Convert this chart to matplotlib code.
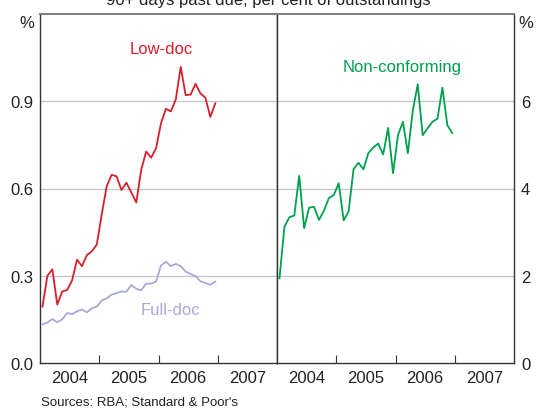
import numpy as np
import matplotlib
matplotlib.use("Agg")
import matplotlib.pyplot as plt

plt.rcParams['font.family'] = ['Liberation Sans', 'DejaVu Sans']

# monthly observations, Jan 2004 - Dec 2006
months = np.arange(36)
low_doc = [0.194, 0.30, 0.322, 0.201, 0.246, 0.251, 0.284, 0.355, 0.333, 0.371,
           0.384, 0.407, 0.511, 0.607, 0.647, 0.642, 0.595, 0.620, 0.586, 0.552,
           0.664, 0.727, 0.706, 0.738, 0.824, 0.874, 0.865, 0.906, 1.018, 0.921,
           0.923, 0.960, 0.927, 0.912, 0.846, 0.893]
full_doc = [0.133, 0.139, 0.151, 0.140, 0.150, 0.172, 0.168, 0.178, 0.184, 0.174,
            0.188, 0.194, 0.215, 0.222, 0.235, 0.240, 0.246, 0.245, 0.268, 0.255,
            0.250, 0.273, 0.273, 0.280, 0.335, 0.348, 0.333, 0.341, 0.333, 0.314,
            0.306, 0.299, 0.281, 0.275, 0.269, 0.280]
non_conf = [1.94, 3.12, 3.34, 3.38, 4.29, 3.09, 3.56, 3.58, 3.28, 3.49,
            3.78, 3.85, 4.12, 3.27, 3.47, 4.44, 4.59, 4.44, 4.81, 4.94,
            5.03, 4.78, 5.39, 4.35, 5.22, 5.53, 4.81, 5.78, 6.39, 5.22,
            5.38, 5.53, 5.60, 6.31, 5.45, 5.27]
years = [2004, 2005, 2006, 2007]
left_ticks = [0.0, 0.3, 0.6, 0.9]
left_labels = ['0.0', '0.3', '0.6', '0.9']
right_ticks = [0, 2, 4, 6]
right_labels = ['0', '2', '4', '6']

x = 2004 + (months + 0.5) / 12

red = '#d81e2c'
green = '#00a04f'
purple = '#a9a9d6'
grid_c = '#c5c9cd'
spine_c = '#333333'

fig = plt.figure(figsize=(5.36, 4.10), dpi=100)
ax1 = fig.add_axes([40 / 536, 46 / 410, 237 / 536, 349 / 410])
ax2 = fig.add_axes([277 / 536, 46 / 410, 237 / 536, 349 / 410])


def style_panel(ax, ymax):
    ax.set_xlim(2004, 2008)
    ax.set_ylim(0, ymax)
    ax.set_xticks([2005, 2006, 2007])
    ax.set_xticklabels([])
    ax.set_xticks([y + 0.5 for y in years], minor=True)
    ax.set_xticklabels([str(y) for y in years], minor=True, fontsize=12)
    ax.tick_params(axis='x', which='major', direction='in', length=6,
                   width=0.8, color=spine_c)
    ax.tick_params(axis='x', which='minor', length=0, pad=5, colors='#222222')
    for s in ax.spines.values():
        s.set_color(spine_c)
        s.set_linewidth(1.0)
    ax.spines['top'].set_color('#7d7d7d')
    ax.spines['top'].set_linewidth(1.4)
    ax.grid(False)


style_panel(ax1, 1.2)
style_panel(ax2, 8)

for v in left_ticks[1:]:
    ax1.axhline(v, color=grid_c, lw=1.0, zorder=1)
for v in right_ticks[1:]:
    ax2.axhline(v, color=grid_c, lw=1.0, zorder=1)

ax1.set_yticks(left_ticks)
ax1.set_yticklabels(left_labels, fontsize=12, color='#222222')
ax1.tick_params(axis='y', length=0, pad=5)

ax2.yaxis.tick_right()
ax2.set_yticks(right_ticks)
ax2.set_yticklabels(right_labels, fontsize=12, color='#222222')
ax2.tick_params(axis='y', length=0, pad=5)

ax1.plot(x, low_doc, color=red, lw=1.3, zorder=3)
ax1.plot(x, full_doc, color=purple, lw=1.3, zorder=3)
ax2.plot(x, non_conf, color=green, lw=1.3, zorder=3)

ax1.text(2006.05, 1.08, 'Low-doc', color=red, fontsize=12, ha='center', va='center')
ax1.text(2006.2, 0.185, 'Full-doc', color=purple, fontsize=12, ha='center', va='center')
ax2.text(2006.12, 1.025 * 8 * 0.83, 'Non-conforming', color=green, fontsize=12,
         ha='center', va='center')

fig.text(27 / 536, 1 - 24 / 410, '%', fontsize=12, ha='center', va='center', color='#222222')
fig.text(526 / 536, 1 - 24 / 410, '%', fontsize=12, ha='center', va='center', color='#222222')

fig.text(0.5, 1 - 1 / 410, '90+ days past due, per cent of outstandings', fontsize=12,
         ha='center', va='center', color='#222222')
fig.text(41 / 536, 1 - 403 / 410, "Sources: RBA; Standard & Poor's", fontsize=9.5,
         ha='left', va='center', color='#222222')

fig.savefig('out.png', dpi=100)
